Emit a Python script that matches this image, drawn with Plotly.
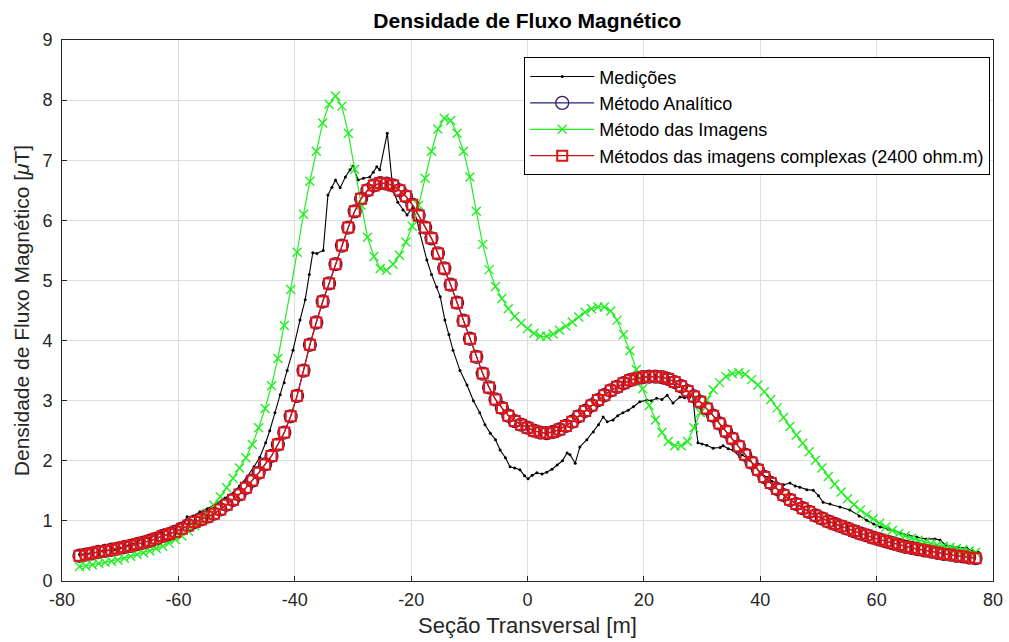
import numpy as np
import plotly.graph_objects as go

# Posições ao longo da seção transversal [m] (amostras dos métodos de cálculo)
secao = np.round(np.arange(141) * 1.1 - 77.0, 2)

# Método Analítico [uT]
analitico = [
    0.42, 0.44, 0.46, 0.485, 0.50, 0.52, 0.54, 0.565, 0.585, 0.615,
    0.64, 0.67, 0.705, 0.75, 0.78, 0.82, 0.87, 0.925, 0.98, 1.025,
    1.07, 1.12, 1.19, 1.27, 1.35, 1.44, 1.55, 1.67, 1.80, 1.94,
    2.08, 2.27, 2.47, 2.74, 3.08, 3.50, 3.93, 4.30, 4.65, 4.95,
    5.27, 5.58, 5.88, 6.15, 6.36, 6.50, 6.58, 6.62, 6.61, 6.58,
    6.50, 6.40, 6.26, 6.08, 5.88, 5.70, 5.45, 5.20, 4.93, 4.63,
    4.33, 4.03, 3.73, 3.45, 3.22, 3.02, 2.88, 2.75, 2.66, 2.60,
    2.55, 2.50, 2.47, 2.46, 2.48, 2.52, 2.58, 2.65, 2.74, 2.83,
    2.92, 3.01, 3.09, 3.17, 3.23, 3.29, 3.34, 3.37, 3.39, 3.40,
    3.40, 3.39, 3.36, 3.31, 3.24, 3.16, 3.07, 2.98, 2.87, 2.75,
    2.62, 2.49, 2.37, 2.24, 2.10, 1.97, 1.85, 1.73, 1.63, 1.53,
    1.43, 1.35, 1.28, 1.21, 1.15, 1.09, 1.04, 0.99, 0.95, 0.91,
    0.87, 0.83, 0.79, 0.76, 0.72, 0.69, 0.66, 0.63, 0.60, 0.57,
    0.55, 0.53, 0.51, 0.49, 0.47, 0.45, 0.44, 0.42, 0.41, 0.39,
    0.38,
]

# Método das Imagens [uT]
imagens = [
    0.24, 0.25, 0.27, 0.29, 0.31, 0.33, 0.35, 0.38, 0.41, 0.44,
    0.47, 0.50, 0.54, 0.58, 0.63, 0.69, 0.75, 0.83, 0.92, 1.02,
    1.13, 1.26, 1.40, 1.55, 1.71, 1.88, 2.05, 2.27, 2.55, 2.87,
    3.25, 3.70, 4.25, 4.85, 5.47, 6.10, 6.65, 7.15, 7.62, 7.93,
    8.07, 7.90, 7.45, 6.85, 6.25, 5.72, 5.40, 5.20, 5.17, 5.27,
    5.42, 5.64, 5.90, 6.25, 6.70, 7.15, 7.52, 7.70, 7.66, 7.45,
    7.15, 6.72, 6.15, 5.60, 5.18, 4.90, 4.70, 4.53, 4.40, 4.29,
    4.20, 4.12, 4.07, 4.07, 4.11, 4.17, 4.24, 4.31, 4.39, 4.47,
    4.53, 4.56, 4.56, 4.49, 4.34, 4.10, 3.83, 3.52, 3.20, 2.92,
    2.68, 2.47, 2.32, 2.25, 2.25, 2.32, 2.55, 2.80, 3.01, 3.18,
    3.30, 3.40, 3.45, 3.47, 3.44, 3.35, 3.26, 3.15, 3.02, 2.88,
    2.72, 2.57, 2.43, 2.29, 2.15, 2.01, 1.88, 1.74, 1.61, 1.48,
    1.37, 1.27, 1.18, 1.10, 1.03, 0.96, 0.90, 0.84, 0.79, 0.75,
    0.71, 0.68, 0.65, 0.62, 0.60, 0.58, 0.56, 0.54, 0.52, 0.50,
    0.48,
]

# Métodos das imagens complexas (2400 ohm.m) coincide com a solução analítica
complexas = list(analitico)

# Medições de campo
med_x = [
    -77, -75, -73, -71, -70, -68.5, -67, -66, -65, -64,
    -63, -62, -61, -60, -59, -58.5, -57.5, -56.3, -55, -54,
    -53.4, -52, -50.6, -49.5, -48.2, -47, -46, -45, -44.3, -43.4,
    -42.5, -41.8, -41.3, -40.3, -39.1, -38.2, -37.5, -36.9, -36.2, -35.1,
    -34.3, -33.6, -33, -32.2, -31.3, -30.5, -30, -29.1, -28.2, -27.1,
    -26.5, -25.9, -25.4, -24.1, -23.3, -23.1, -22.3, -21.4, -20.7, -19.7,
    -19, -18.5, -17.3, -16.5, -15.6, -15, -14.2, -13.5, -12.8, -11.6,
    -10.4, -9.3, -8.2, -7.3, -6.4, -5.5, -4.7, -3.8, -3, -2.2,
    -1.3, -0.5, 0.1, 0.8, 1.6, 2.5, 3.3, 4.2, 5.1, 6,
    6.8, 7.3, 8.2, 9, 10.2, 11.3, 12.2, 13, 13.7, 14.7,
    15.5, 16.4, 17.3, 18.2, 19.3, 20.5, 21.3, 22.2, 23.1, 24,
    25, 26.2, 27, 27.9, 28.4, 28.9, 29.3, 30, 30.8, 31.9,
    33.1, 33.6, 34.5, 35.3, 36.5, 36.9, 38.2, 39, 40, 41.2,
    42, 42.9, 44, 45.1, 46, 46.8, 48, 49.1, 50, 50.8,
    52, 53.7, 55.4, 57, 58.3, 59.5, 60.6, 62, 64, 65.5,
    66.9, 68.5, 70, 70.9, 71.8, 72.6, 74, 75.5, 76.5, 77.5,
]
med_y = [
    0.44, 0.47, 0.50, 0.52, 0.55, 0.60, 0.65, 0.72, 0.70, 0.76,
    0.80, 0.86, 0.90, 0.95, 0.98, 1.07, 1.08, 1.15, 1.20, 1.25,
    1.30, 1.38, 1.46, 1.58, 1.73, 1.90, 2.06, 2.30, 2.50, 2.80,
    3.10, 3.30, 3.50, 3.84, 4.34, 4.68, 5.10, 5.46, 5.45, 5.50,
    6.42, 6.55, 6.67, 6.54, 6.72, 6.84, 6.90, 6.67, 6.70, 6.72,
    6.80, 6.89, 6.84, 7.45, 6.67, 6.50, 6.30, 6.17, 6.09, 6.22,
    6.00, 5.79, 5.34, 5.10, 4.89, 4.73, 4.34, 4.10, 3.84, 3.50,
    3.26, 3.00, 2.80, 2.60, 2.46, 2.35, 2.18, 2.05, 1.90, 1.88,
    1.85, 1.75, 1.70, 1.76, 1.80, 1.78, 1.81, 1.86, 1.93, 2.00,
    2.13, 2.10, 1.96, 2.23, 2.35, 2.48, 2.60, 2.73, 2.65, 2.68,
    2.75, 2.80, 2.84, 2.90, 2.98, 3.01, 3.00, 3.04, 3.02, 3.09,
    2.96, 3.06, 3.05, 3.06, 3.08, 2.60, 2.30, 2.28, 2.26, 2.21,
    2.22, 2.25, 2.20, 2.18, 2.06, 2.10, 2.01, 1.92, 1.80, 1.72,
    1.66, 1.63, 1.60, 1.63, 1.58, 1.56, 1.52, 1.51, 1.42, 1.31,
    1.28, 1.23, 1.18, 1.08, 1.01, 0.95, 0.90, 0.86, 0.80, 0.76,
    0.73, 0.70, 0.70, 0.68, 0.60, 0.57, 0.56, 0.55, 0.50, 0.48,
]

x_ticks = [-80, -60, -40, -20, 0, 20, 40, 60, 80]
x_ticktext = ["-80", "-60", "-40", "-20", "0", "20", "40", "60", "80"]
y_ticks = [0, 1, 2, 3, 4, 5, 6, 7, 8, 9]

FONT = "Liberation Sans, Arial, sans-serif"

fig = go.Figure()

fig.add_trace(go.Scatter(
    x=med_x, y=med_y, name="Medições", mode="lines+markers",
    line=dict(color="#000000", width=1.1),
    marker=dict(color="#000000", size=3, symbol="circle"),
))
fig.add_trace(go.Scatter(
    x=secao, y=analitico, name="Método Analítico", mode="lines+markers",
    line=dict(color="#22227a", width=1.2),
    marker=dict(symbol="circle-open", size=13, color="#3a1a60",
                line=dict(width=1.3, color="#3a1a60")),
))
fig.add_trace(go.Scatter(
    x=secao, y=imagens, name="Método das Imagens", mode="lines+markers",
    line=dict(color="#22ee22", width=1.2),
    marker=dict(symbol="x-thin-open", size=9, color="#22ee22",
                line=dict(width=1.4, color="#22ee22")),
))
fig.add_trace(go.Scatter(
    x=secao, y=complexas, name="Métodos das imagens complexas (2400 ohm.m)",
    mode="lines+markers",
    line=dict(color="#d01010", width=1.2),
    marker=dict(symbol="square-open", size=10, color="#e01414",
                line=dict(width=2, color="#e01414")),
))

fig.update_layout(
    width=1009, height=642,
    margin=dict(l=62, r=16, t=40, b=61),
    paper_bgcolor="white", plot_bgcolor="white",
    font=dict(family=FONT, size=17, color="#262626"),
    title=dict(text="<b>Densidade de Fluxo Magnético</b>", x=0.5227, xanchor="center",
               y=0.968, yanchor="middle", font=dict(size=21, color="#000000")),
    showlegend=True,
    legend=dict(x=0.997, xanchor="right", y=0.968, yanchor="top",
                bgcolor="white", bordercolor="#000000", borderwidth=1,
                font=dict(size=18, color="#000000"), itemwidth=64,
                tracegroupgap=0),
)

axis_common = dict(
    showgrid=True, gridcolor="#dedede", gridwidth=1,
    zeroline=False, showline=True, linecolor="#262626", linewidth=1,
    mirror=True, ticks="inside", ticklen=5, tickcolor="#262626",
    tickfont=dict(size=18, color="#262626"), automargin=False,
)
fig.update_xaxes(range=[-80, 80], tickvals=x_ticks, ticktext=x_ticktext,
                 ticklabelstandoff=2,
                 title=dict(text="Seção Transversal [m]", standoff=9,
                            font=dict(size=22, color="#262626")),
                 **axis_common)
fig.update_yaxes(range=[0, 9], tickvals=y_ticks, ticklabelstandoff=5,
                 title=dict(text="Densidade de Fluxo Magnético [<i>μ</i>T]", standoff=7,
                            font=dict(size=21, color="#262626")),
                 **axis_common)

fig.write_html("out.html")
